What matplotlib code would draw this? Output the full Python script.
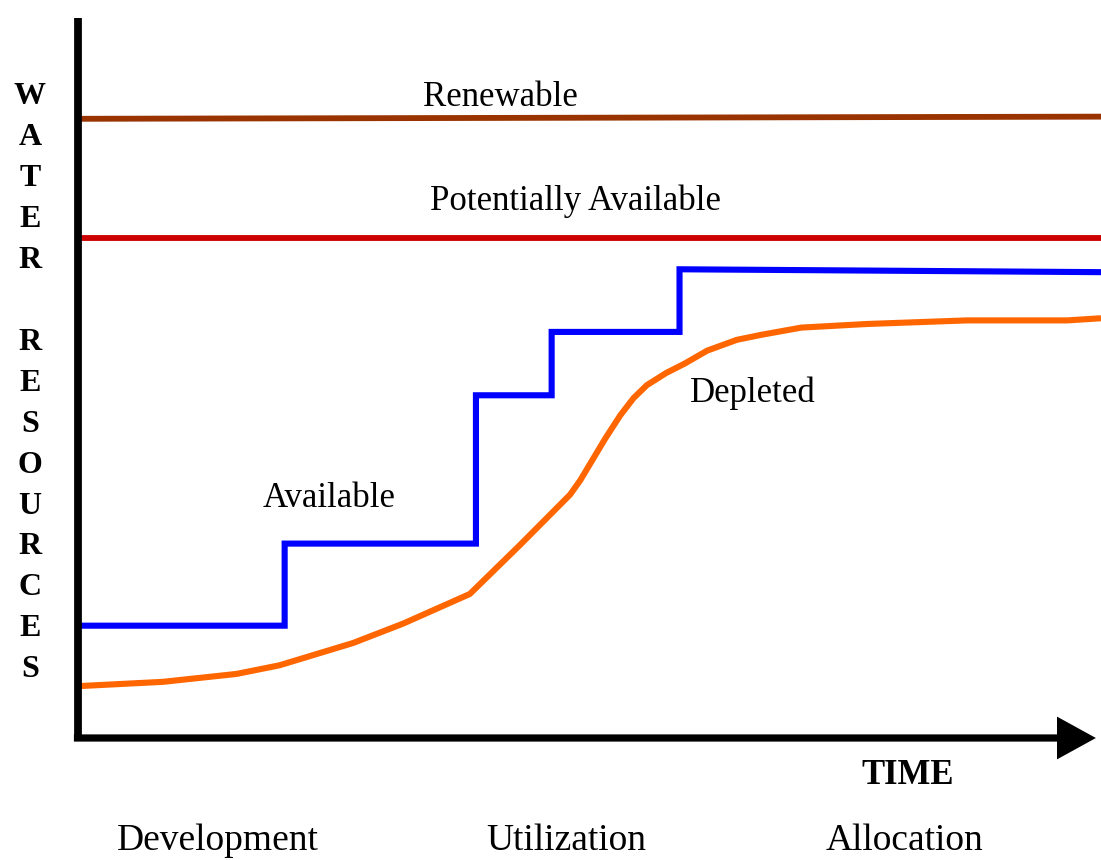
import matplotlib
matplotlib.use("Agg")
import matplotlib.pyplot as plt

# ---- data (time 0-100, resource level 0-100) ----
renewable_x = [0, 100]
renewable_y = [86.0, 86.3]
potential_x = [0, 100]
potential_y = [69.4, 69.4]

avail_x = [0, 20.2, 20.2, 38.9, 38.9, 46.3, 46.3, 58.8, 58.8, 100]
avail_y = [15.6, 15.6, 27.0, 27.0, 47.6, 47.6, 56.4, 56.4, 65.1, 64.7]

depl_x = [0, 8.3, 15.5, 19.7, 26.9, 31.8, 38.3, 43.2, 48.1, 49.1, 51.5, 53.0,
          54.3, 55.6, 57.5, 59.3, 61.5, 64.4, 66.8, 70.7, 77.1, 86.9, 96.7, 100]
depl_y = [7.2, 7.8, 8.9, 10.1, 13.2, 15.9, 20.0, 26.8, 33.8, 35.8, 41.5, 44.8,
          47.2, 49.0, 50.7, 52.0, 53.8, 55.3, 56.0, 57.0, 57.5, 58.0, 58.0, 58.3]

line_labels = ["Renewable", "Potentially Available", "Available", "Depleted"]
axis_letters = ["W", "A", "T", "E", "R", "", "R", "E", "S", "O", "U", "R", "C", "E", "S"]
phases = ["Development", "Utilization", "Allocation"]

W, H = 1101, 860
fig = plt.figure(figsize=(W / 100, H / 100), dpi=100)
ax_l, ax_r, ax_b, ax_t = 78, 1101, 738, 18
ax = fig.add_axes([ax_l / W, 1 - ax_b / H, (ax_r - ax_l) / W, (ax_b - ax_t) / H])
ax.set_xlim(0, 100)
ax.set_ylim(0, 100)
ax.set_xticks([])
ax.set_yticks([])
for s in ["top", "right", "bottom"]:
    ax.spines[s].set_visible(False)
ax.spines["left"].set_linewidth(5.6)
ax.spines["left"].set_color("black")
ax.spines["left"].set_capstyle("butt")

serif = ["Liberation Serif", "DejaVu Serif"]

ax.plot(renewable_x, renewable_y, color="#993300", lw=4.2, solid_capstyle="butt", clip_on=False)
ax.plot(potential_x, potential_y, color="#CC0000", lw=4.2, solid_capstyle="butt", clip_on=False)
ax.plot(avail_x, avail_y, color="#0000FF", lw=4.4, solid_joinstyle="miter", solid_capstyle="butt", clip_on=False)
ax.plot(depl_x, depl_y, color="#FF6600", lw=4.4, solid_capstyle="butt", clip_on=False)

# x axis arrow
ax.annotate("", xy=(0.995, 0), xytext=(-0.004, 0), xycoords="axes fraction",
            textcoords="axes fraction",
            arrowprops=dict(arrowstyle="-|>,head_length=1.0,head_width=0.55",
                            lw=5.2, color="black", mutation_scale=20,
                            shrinkA=0, shrinkB=0, joinstyle="miter", capstyle="butt"))

fs = 25
ax.text(33.7, 87.8, line_labels[0], fontsize=fs, family=serif, ha="left", va="baseline")
ax.text(34.4, 73.3, line_labels[1], fontsize=fs, family=serif, ha="left", va="baseline")
ax.text(18.0, 32.1, line_labels[2], fontsize=fs, family=serif, ha="left", va="baseline")
ax.text(59.8, 46.7, line_labels[3], fontsize=fs, family=serif, ha="left", va="baseline")

# TIME label
fig.text(908 / W, 1 - 776 / H, "TIME", fontsize=25, fontweight="bold", family=serif,
         ha="center", va="center")

# vertical letters
for i, ch in enumerate(axis_letters):
    if ch:
        fig.text(30 / W, 1 - (97 + 40.9 * i) / H, ch, fontsize=23, fontweight="bold",
                 family=serif, ha="center", va="center")

# phase labels
for cx, name in zip([218, 566, 904], phases):
    fig.text(cx / W, 1 - 850 / H, name, fontsize=27, family=serif, ha="center", va="baseline")

fig.savefig("out.png", dpi=100, facecolor="white")
